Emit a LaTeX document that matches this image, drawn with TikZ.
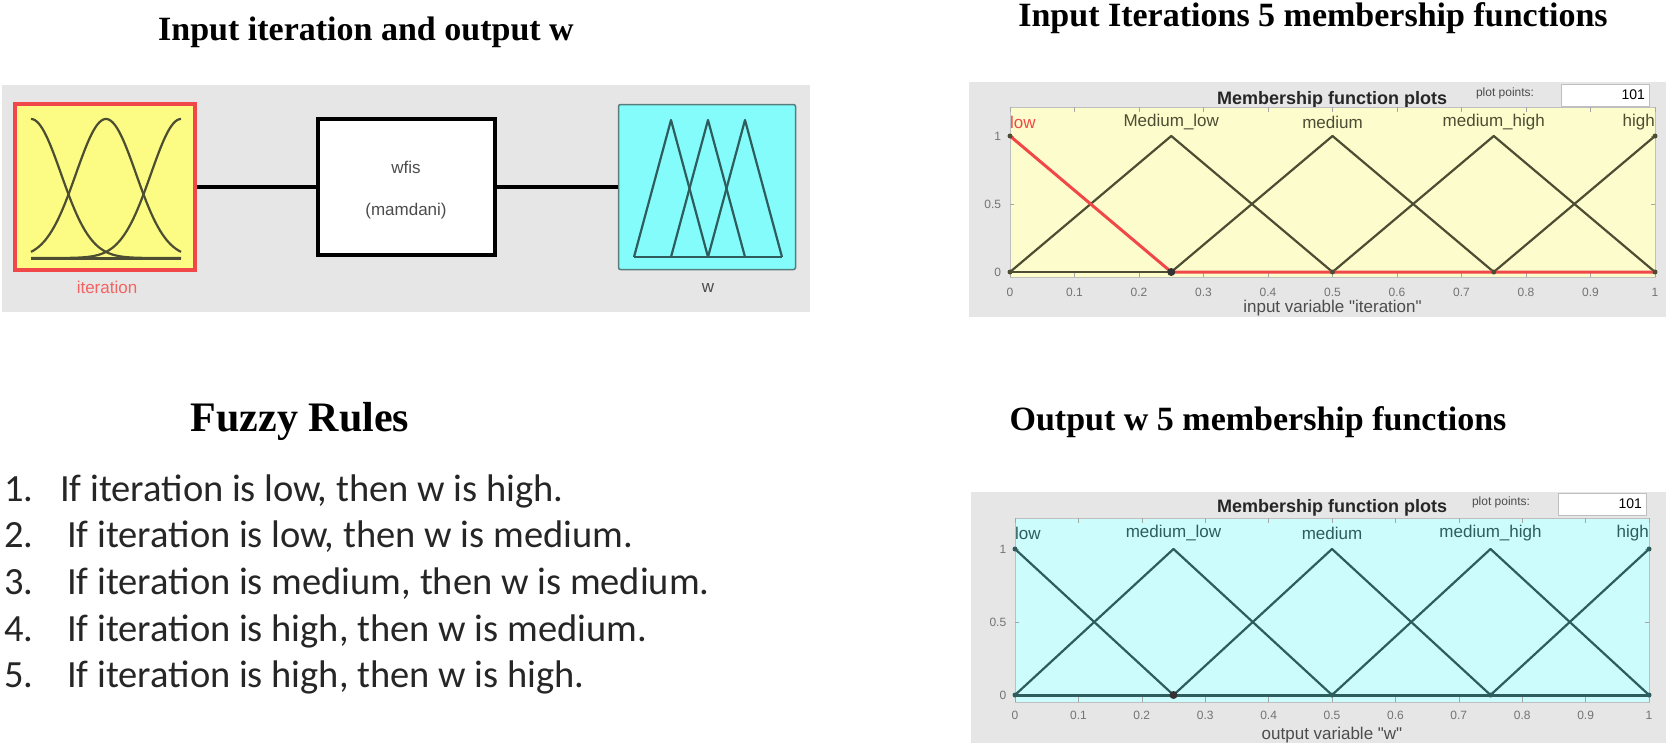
\documentclass[tikz,border=0pt]{standalone}
\usepackage{fontspec}
\setmainfont{Liberation Serif}
\newfontfamily\rulefont{Carlito}
\newfontfamily\guifont{Liberation Sans}
\usetikzlibrary{positioning}

\definecolor{panelgray}{HTML}{E6E6E6}
\definecolor{fisyellow}{HTML}{FCFC84}
\definecolor{fiscyan}{HTML}{84FCFC}
\definecolor{fisred}{HTML}{F04848}
\definecolor{plotyellow}{HTML}{FCFCCC}
\definecolor{plotcyan}{HTML}{CCFCFC}
\definecolor{oliveline}{HTML}{4D4D33}
\definecolor{tealline}{HTML}{2F5C5C}

\begin{document}
\begin{tikzpicture}[x=1pt, y=-1pt,
    heading/.style={font=\bfseries\fontsize{34}{40}\selectfont},
    guitext/.style={font=\guifont\fontsize{17}{20}\selectfont, text=black!70},
    mftitle/.style={font=\guifont\bfseries\fontsize{18}{20}\selectfont, text=black!85},
    ptslabel/.style={font=\guifont\fontsize{12}{14}\selectfont, text=black!70},
    ptsbox/.style={draw=black!25, fill=white, text width=80pt, minimum height=22pt,
                   align=right, font=\guifont\fontsize{14}{16}\selectfont, inner sep=4pt},
    fisbox/.style={rectangle, draw, line width=4pt, minimum width=177pt, minimum height=136pt},
    wire/.style={line width=4pt},
    mfline/.style={line width=2.2pt, line join=round},
    mflabel/.style={font=\guifont\fontsize{17}{20}\selectfont, inner sep=0pt},
    ticklbl/.style={font=\guifont\fontsize{12}{14}\selectfont, text=black!55, inner sep=1pt},
    ruletext/.style={font=\rulefont\fontsize{38.5}{44}\selectfont, text=black!85, anchor=base west, inner sep=0pt}
]
\useasboundingbox (0,0) rectangle (1669,744);

% titles
\node[heading] (fistitle) at (366,32) {Input iteration and output w};
\node[heading] (intitle) at (1313,18) {Input Iterations 5 membership functions};
\node[heading, font=\bfseries\fontsize{42}{48}\selectfont] (ruletitle) at (300,421) {Fuzzy Rules};
\node[heading] (outtitle) at (1258,422) {Output w 5 membership functions};

% FIS editor
\fill[panelgray] (2,85) rectangle (810,312);
\node[fisbox, draw=fisred, fill=fisyellow, minimum width=180pt, minimum height=166pt] (iter) at (105,187) {};
\node[fisbox, fill=white] (wfis) at (406,187) {};
\node[fisbox, draw=tealline!80, line width=1.5pt, fill=fiscyan, rounded corners=2pt,
      minimum width=177pt, minimum height=165pt] (wout) at (707,187) {};
\draw[wire] (iter) -- (wfis);
\draw[wire] (wfis) -- (wout);
\node[guitext] (fisname) at (406,167) {wfis};
\node[guitext] (fistype) at (406,211) {(mamdani)};
\node[guitext, text=fisred!85] (iterlbl) at (107,287) {iteration};
\node[guitext] (wlbl) at (708,288) {w};
\foreach \c in {31,106,181}
  \draw[mfline, oliveline] plot[domain=31:181, samples=80, smooth]
    (\x, {258-139*exp(-0.5*((\x-\c)/30)^2)});
\draw[mfline, oliveline, line width=3pt] (31,258) -- (181,258);
\foreach \a in {671,708,745}
  \draw[mfline, tealline] (\a-37,257) -- (\a,120) -- (\a+37,257);
\draw[mfline, tealline] (634,257) -- (782,257);

% input membership functions
\fill[panelgray] (969,82) rectangle (1666,317);
\node[mftitle] (mfhead1) at (1332,100) {Membership function plots};
\node[ptslabel] (ptslbl1) at (1505,93) {plot points:};
\node[ptsbox] (pts1) at (1605,95) {101};
\begin{scope}[shift={(1010,272)}, x=645pt, y=136pt]
  \fill[plotyellow] (0,-0.04) rectangle (1,1.21);
  \draw[black!25] (0,-0.04) rectangle (1,1.21);
  \foreach \t [count=\i] in {0,0.1,0.2,0.3,0.4,0.5,0.6,0.7,0.8,0.9,1} {
    \draw[black!35] (\t,-0.04) -- ++(0,0.035) (\t,1.21) -- ++(0,-0.035);
    \node[ticklbl] (xa\i) at (\t,-0.15) {\t};
  }
  \foreach \v [count=\i] in {0,0.5,1} {
    \draw[black!35] (0,\v) -- ++(0.006,0) (1,\v) -- ++(-0.006,0);
    \node[ticklbl, anchor=east] (ya\i) at (-0.012,\v) {\v};
  }
  \draw[mfline, oliveline] (0,0) -- (1,0);
  \draw[mfline, oliveline] (0,0) -- (0.25,1) -- (0.5,0);
  \draw[mfline, oliveline] (0.25,0) -- (0.5,1) -- (0.75,0);
  \draw[mfline, oliveline] (0.5,0) -- (0.75,1) -- (1,0);
  \draw[mfline, oliveline] (0.75,0) -- (1,1);
  \draw[line width=3pt, fisred] (0,1) -- (0.25,0) -- (1,0);
  \foreach \p in {(0,1),(0,0),(0.5,0),(0.75,0),(1,0),(1,1)}
    \fill[oliveline] \p circle (2.5pt);
  \fill[black!80] (0.25,0) circle (4pt);
  \node[mflabel, anchor=west, text=fisred] (inlow) at (0,1.1) {low};
  \node[mflabel, text=oliveline] (inmedlow) at (0.25,1.1) {Medium\_low};
  \node[mflabel, text=oliveline] (inmed) at (0.5,1.1) {medium};
  \node[mflabel, text=oliveline] (inmedhigh) at (0.75,1.1) {medium\_high};
  \node[mflabel, anchor=east, text=oliveline] (inhigh) at (1,1.1) {high};
  \node[guitext] (inxlabel) at (0.5,-0.265) {input variable "iteration"};
\end{scope}

% output membership functions
\fill[panelgray] (971,492) rectangle (1666,743);
\node[mftitle] (mfhead2) at (1332,508) {Membership function plots};
\node[ptslabel] (ptslbl2) at (1501,502) {plot points:};
\node[ptsbox] (pts2) at (1602,504) {101};
\begin{scope}[shift={(1015,695)}, x=634pt, y=146pt]
  \fill[plotcyan] (0,-0.05) rectangle (1,1.21);
  \draw[black!25] (0,-0.05) rectangle (1,1.21);
  \foreach \t [count=\i] in {0,0.1,0.2,0.3,0.4,0.5,0.6,0.7,0.8,0.9,1} {
    \draw[black!35] (\t,-0.05) -- ++(0,0.035) (\t,1.21) -- ++(0,-0.035);
    \node[ticklbl] (xb\i) at (\t,-0.137) {\t};
  }
  \foreach \v [count=\i] in {0,0.5,1} {
    \draw[black!35] (0,\v) -- ++(0.006,0) (1,\v) -- ++(-0.006,0);
    \node[ticklbl, anchor=east] (yb\i) at (-0.012,\v) {\v};
  }
  \draw[mfline, tealline, line width=3pt] (0,0) -- (1,0);
  \draw[mfline, tealline] (0,1) -- (0.25,0);
  \draw[mfline, tealline] (0,0) -- (0.25,1) -- (0.5,0);
  \draw[mfline, tealline] (0.25,0) -- (0.5,1) -- (0.75,0);
  \draw[mfline, tealline] (0.5,0) -- (0.75,1) -- (1,0);
  \draw[mfline, tealline] (0.75,0) -- (1,1);
  \foreach \p in {(0,1),(0,0),(0.5,0),(0.75,0),(1,0),(1,1)}
    \fill[tealline] \p circle (2.5pt);
  \fill[black!80] (0.25,0) circle (4pt);
  \node[mflabel, anchor=west, text=tealline] (outlow) at (0,1.11) {low};
  \node[mflabel, text=tealline] (outmedlow) at (0.25,1.11) {medium\_low};
  \node[mflabel, text=tealline] (outmed) at (0.5,1.11) {medium};
  \node[mflabel, text=tealline] (outmedhigh) at (0.75,1.11) {medium\_high};
  \node[mflabel, anchor=east, text=tealline] (outhigh) at (1,1.11) {high};
  \node[guitext] (outxlabel) at (0.5,-0.274) {output variable "w"};
\end{scope}

% rules
\foreach \n/\r [count=\i] in {1/{If iteration is low, then w is high.},
                              2/{If iteration is low, then w is medium.},
                              3/{If iteration is medium, then w is medium.},
                              4/{If iteration is high, then w is medium.},
                              5/{If iteration is high, then w is high.}} {
  \node[ruletext] (num\i) at (4,{501+46.7*(\i-1)}) {\n.};
  \node[ruletext] (rule\i) at ({\i==1 ? 60 : 67},{501+46.7*(\i-1)}) {\r};
}
\end{tikzpicture}
\end{document}
